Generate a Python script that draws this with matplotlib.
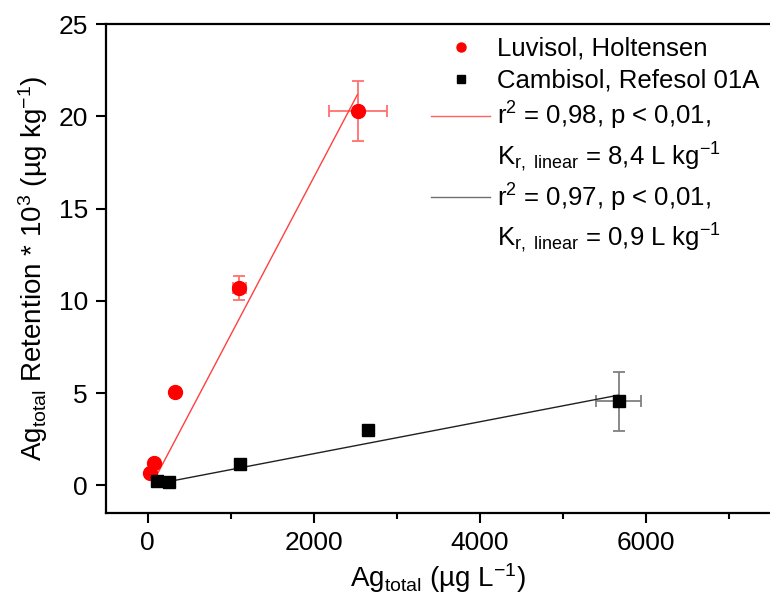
import numpy as np
import matplotlib
matplotlib.use("Agg")
import matplotlib.pyplot as plt

plt.rcParams["font.family"] = ["Liberation Sans", "DejaVu Sans"]
plt.rcParams["mathtext.fontset"] = "custom"
plt.rcParams["mathtext.rm"] = "Liberation Sans"
plt.rcParams["mathtext.it"] = "Liberation Sans:italic"
plt.rcParams["mathtext.bf"] = "Liberation Sans:bold"

# Luvisol, Holtensen
luv_x = [28, 76, 336, 1108, 2535]
luv_y = [0.69, 1.2, 5.08, 10.7, 20.29]
luv_xerr = [0, 0, 0, 75, 345]
luv_yerr = [0, 0, 0, 0.63, 1.65]

# Cambisol, Refesol 01A
cam_x = [116, 264, 1116, 2651, 5675]
cam_y = [0.23, 0.2, 1.17, 3.03, 4.56]
cam_xerr = [0, 0, 0, 45, 272]
cam_yerr = [0, 0, 0, 0.12, 1.6]

# linear fits (slope per ug/L, intercept, x range)
luv_fit = (0.00853, -0.39)
luv_fit_range = [100, 2528]
cam_fit = (0.000864, -0.008)
cam_fit_range = [276, 5667]

luv_fit_text = ["r$^2$ = 0,98, p < 0,01,", "K$_{\\mathrm{r,\\ linear}}$ = 8,4 L kg$^{-1}$"]
cam_fit_text = ["r$^2$ = 0,97, p < 0,01,", "K$_{\\mathrm{r,\\ linear}}$ = 0,9 L kg$^{-1}$"]

fig = plt.figure(figsize=(7.7, 6.03), dpi=100)
ax = fig.add_axes([0.1377, 0.149, 0.8623, 0.811])

ax.errorbar(luv_x, luv_y, xerr=luv_xerr, yerr=luv_yerr, fmt="none",
            ecolor="#ff7070", elinewidth=1.3, capsize=4.5, capthick=1.3, zorder=2)
ax.errorbar(cam_x, cam_y, xerr=cam_xerr, yerr=cam_yerr, fmt="none",
            ecolor="#808080", elinewidth=1.3, capsize=4.5, capthick=1.3, zorder=2)

fx = np.array(luv_fit_range)
ax.plot(fx, luv_fit[0] * fx + luv_fit[1], color="#ff4040", lw=1.0, zorder=3)
fx = np.array(cam_fit_range)
ax.plot(fx, cam_fit[0] * fx + cam_fit[1], color="#202020", lw=1.0, zorder=3)

ax.plot(luv_x, luv_y, "o", color="red", ms=10, mec="red", ls="none", zorder=4)
ax.plot(cam_x, cam_y, "s", color="black", ms=8.5, ls="none", zorder=4)

blank = plt.Line2D([], [], ls="none")
handles = [
    plt.Line2D([], [], marker="o", color="red", ms=6.5, ls="none"),
    plt.Line2D([], [], marker="s", color="black", ms=5.5, ls="none"),
    plt.Line2D([], [], color="#ff6060", lw=1.0),
    blank,
    plt.Line2D([], [], color="#707070", lw=1.0),
    blank,
]
labels = ["Luvisol, Holtensen", "Cambisol, Refesol 01A"] + luv_fit_text + cam_fit_text
ax.legend(handles, labels, loc="upper left", bbox_to_anchor=(0.474, 0.995),
          frameon=False, fontsize=18.5, handlelength=2.3, handletextpad=0.27,
          labelspacing=0.3, borderaxespad=0.0)

ax.set_xlim(-500, 7500)
ax.set_ylim(-1.5, 25)
ax.set_xticks([0, 2000, 4000, 6000])
ax.set_xticks([1000, 3000, 5000, 7000], minor=True)
ax.set_yticks([0, 5, 10, 15, 20, 25])
ax.tick_params(axis="both", which="major", direction="out", length=7, width=1.5,
               labelsize=19, pad=6)
ax.tick_params(axis="x", which="minor", direction="out", length=4.5, width=1.5)
for side in ["left", "top", "bottom"]:
    ax.spines[side].set_linewidth(1.6)
ax.spines["right"].set_visible(False)

ax.set_xlabel("Ag$_{\\mathrm{total}}$ (µg L$^{-1}$)", fontsize=20, labelpad=4)
ax.set_ylabel("Ag$_{\\mathrm{total}}$ Retention * 10$^{3}$ (µg kg$^{-1}$)", fontsize=20, labelpad=6)

fig.savefig("out.png", dpi=100)
